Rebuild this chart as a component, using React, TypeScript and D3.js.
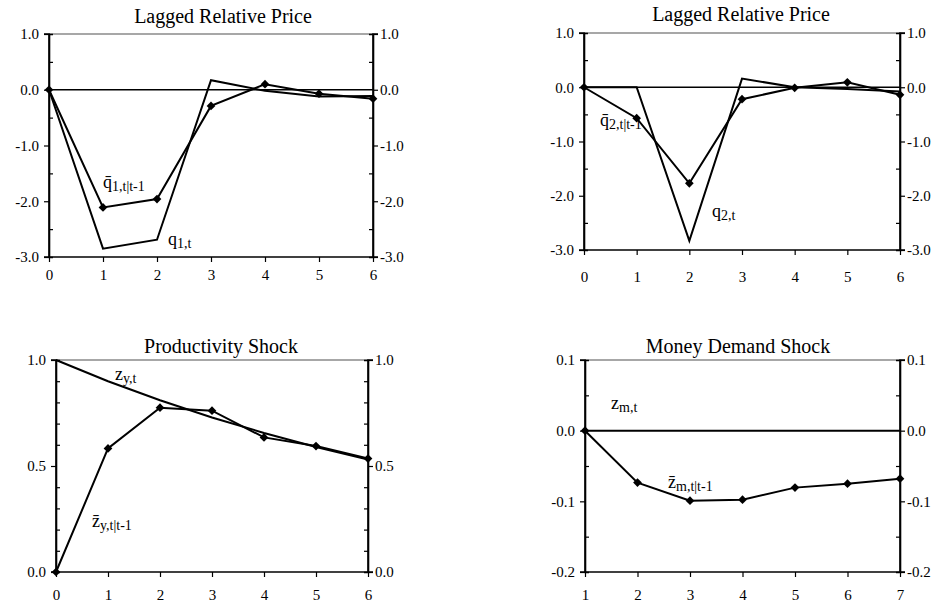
import * as React from "react";
import { useRef, useEffect } from "react";
import * as d3 from "d3";

// periods on the x axis
const lagsA = [0, 1, 2, 3, 4, 5, 6];
const lagsB = [1, 2, 3, 4, 5, 6, 7];

// series
const q1 = [0, -2.85, -2.69, 0.17, -0.02, -0.12, -0.11];
const q1Bar = [0, -2.11, -1.96, -0.29, 0.1, -0.07, -0.16];
const q2 = [0, 0, -2.83, 0.16, 0, -0.03, -0.08];
const q2Bar = [0, -0.57, -1.77, -0.22, -0.01, 0.09, -0.14];
const zy = [1.0, 0.9, 0.81, 0.729, 0.656, 0.59, 0.531];
const zyBar = [0, 0.583, 0.775, 0.761, 0.635, 0.594, 0.535];
const zm = [0, 0, 0, 0, 0, 0, 0];
const zmBar = [0, -0.0735, -0.099, -0.0976, -0.0806, -0.075, -0.068];

// y ticks
const priceTicks = [-3, -2, -1, 0, 1];
const priceMinor = [-2.5, -1.5, -0.5, 0.5];
const prodTicks = [0, 0.5, 1];
const prodMinor = [0.1, 0.2, 0.3, 0.4, 0.6, 0.7, 0.8, 0.9];
const moneyTicks = [-0.2, -0.1, 0, 0.1];
const moneyMinor = [-0.15, -0.05, 0.05];

const FONT = "Liberation Serif, Times New Roman, serif";

const panels = [
  {
    title: "Lagged Relative Price", titleX: 223, titleY: 23,
    box: { left: 49, right: 373, top: 34, bottom: 257 },
    xs: lagsA, yDomain: [-3, 1], major: priceTicks, minor: priceMinor, xPad: 7, zeroLine: true,
    series: [{ values: q1, marks: false }, { values: q1Bar, marks: true }],
    labels: [
      { base: "q", bar: true, sub: "1,t|t-1", x: 103, y: 188 },
      { base: "q", bar: false, sub: "1,t", x: 168, y: 245 },
    ],
  },
  {
    title: "Lagged Relative Price", titleX: 741, titleY: 21,
    box: { left: 584, right: 900, top: 33, bottom: 250 },
    xs: lagsA, yDomain: [-3, 1], major: priceTicks, minor: priceMinor, xPad: 16, zeroLine: true,
    series: [{ values: q2, marks: false }, { values: q2Bar, marks: true }],
    labels: [
      { base: "q", bar: true, sub: "2,t|t-1", x: 600, y: 126 },
      { base: "q", bar: false, sub: "2,t", x: 712, y: 217 },
    ],
  },
  {
    title: "Productivity Shock", titleX: 221, titleY: 353,
    box: { left: 56, right: 368, top: 360, bottom: 572 },
    xs: lagsA, yDomain: [0, 1], major: prodTicks, minor: prodMinor, xPad: 12, zeroLine: false,
    series: [{ values: zy, marks: false }, { values: zyBar, marks: true }],
    labels: [
      { base: "z", bar: false, sub: "y,t", x: 115, y: 380 },
      { base: "z", bar: true, sub: "y,t|t-1", x: 92, y: 527 },
    ],
  },
  {
    title: "Money Demand Shock", titleX: 738, titleY: 353,
    box: { left: 585, right: 900, top: 360, bottom: 572 },
    xs: lagsB, yDomain: [-0.2, 0.1], major: moneyTicks, minor: moneyMinor, xPad: 12, zeroLine: false,
    series: [{ values: zm, marks: false }, { values: zmBar, marks: true }],
    labels: [
      { base: "z", bar: false, sub: "m,t", x: 611, y: 409 },
      { base: "z", bar: true, sub: "m,t|t-1", x: 668, y: 488 },
    ],
  },
];

export default function App() {
  const ref = useRef<SVGSVGElement | null>(null);

  useEffect(() => {
    const svg = d3.select(ref.current);
    svg.selectAll("*").remove();

    panels.forEach((p) => {
      const { left, right, top, bottom } = p.box;
      const x = d3.scaleLinear().domain(d3.extent(p.xs) as [number, number]).range([left, right]);
      const y = d3.scaleLinear().domain(p.yDomain).range([bottom, top]);
      const fmt = (d: any) => (+d).toFixed(1);
      const g = svg.append("g").attr("font-family", FONT);

      // gray top frame
      g.append("line")
        .attr("x1", left).attr("x2", right).attr("y1", top).attr("y2", top)
        .attr("stroke", "#8a8a8a").attr("stroke-width", 1.6);

      // left axis: labelled major ticks outside, minor ticks inside
      const leftAx = g.append("g").attr("transform", `translate(${left},0)`)
        .call(d3.axisLeft(y).tickValues(p.major).tickSize(5).tickPadding(5).tickFormat(fmt));
      g.append("g").attr("transform", `translate(${left},0)`)
        .call(d3.axisRight(y).tickValues(p.minor).tickSize(4).tickFormat(() => ""));

      const rightAx = g.append("g").attr("transform", `translate(${right},0)`)
        .call(d3.axisRight(y).tickValues(p.major).tickSize(5).tickPadding(2).tickFormat(fmt));
      g.append("g").attr("transform", `translate(${right},0)`)
        .call(d3.axisLeft(y).tickValues(p.minor).tickSize(4).tickFormat(() => ""));

      const bottomAx = g.append("g").attr("transform", `translate(0,${bottom})`)
        .call(d3.axisBottom(x).tickValues(p.xs).tickSize(5).tickPadding(p.xPad).tickFormat(d3.format("d")));

      g.selectAll("g").attr("font-family", FONT).attr("font-size", 15);
      g.selectAll(".tick text").attr("fill", "#000");
      g.selectAll(".domain").attr("stroke", "#000").attr("stroke-width", 1.6);
      g.selectAll(".tick line").attr("stroke", "#000").attr("stroke-width", 1.2);
      leftAx.select(".domain").attr("d", `M-5,${bottom}H0V${top}H-5`);
      rightAx.select(".domain").attr("d", `M5,${bottom}H0V${top}H5`);
      bottomAx.select(".domain").attr("d", `M${left},0H${right}`);

      if (p.zeroLine) {
        g.append("line")
          .attr("x1", left).attr("x2", right).attr("y1", y(0)).attr("y2", y(0))
          .attr("stroke", "#000").attr("stroke-width", 1.6);
      }

      const line = d3.line<number>()
        .x((_, i) => x(p.xs[i]))
        .y((d) => y(d));

      p.series.forEach((s) => {
        g.append("path")
          .datum(s.values)
          .attr("fill", "none")
          .attr("stroke", "#000")
          .attr("stroke-width", 2)
          .attr("stroke-linejoin", "miter")
          .attr("d", line);
        if (s.marks) {
          g.selectAll(null)
            .data(s.values)
            .enter()
            .append("path")
            .attr("transform", (d, i) => `translate(${x(p.xs[i])},${y(d)}) rotate(45)`)
            .attr("d", d3.symbol(d3.symbolSquare, 38)())
            .attr("fill", "#000");
        }
      });

      g.append("text")
        .attr("x", p.titleX)
        .attr("y", p.titleY)
        .attr("text-anchor", "middle")
        .attr("font-size", 20)
        .text(p.title);

      p.labels.forEach((l) => {
        const t = g.append("text").attr("x", l.x).attr("y", l.y).attr("font-size", 18);
        t.append("tspan").text(l.bar ? l.base + "\u0304" : l.base);
        t.append("tspan").attr("font-size", 14).attr("dy", 3).text(l.sub);
      });
    });
  }, []);

  return (
    <svg
      ref={ref}
      width={941}
      height={607}
      style={{ position: "absolute", left: 0, top: 0, background: "#fff" }}
    />
  );
}
